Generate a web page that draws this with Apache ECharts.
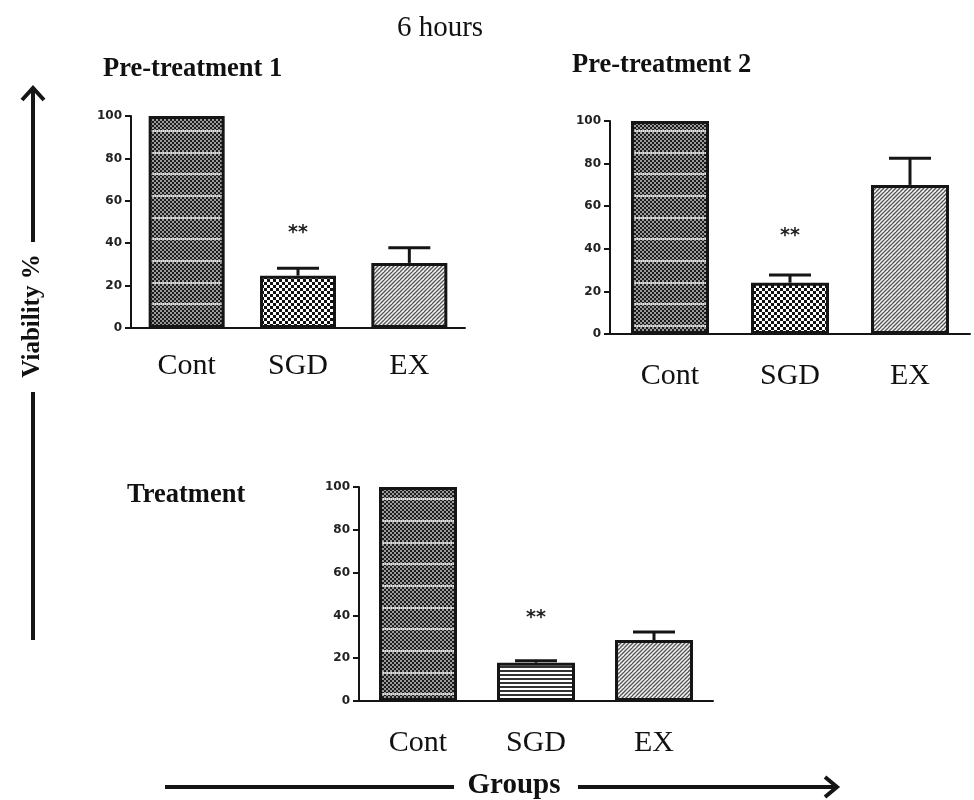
<!DOCTYPE html>
<html>
<head>
<meta charset="utf-8">
<script src="https://cdn.jsdelivr.net/npm/echarts@6/dist/echarts.min.js"></script>
<style>
  html, body { margin: 0; padding: 0; background: #fff; }
  #chart { width: 974px; height: 800px; }
</style>
</head>
<body>
<div id="chart"></div>
<script>
// Groups on the x axis
const categories = ['Cont', 'SGD', 'EX'];

// Viability % per group, with the upper end of each error bar (SEM)
const preTreatment1 = [100, 24.7, 30.7];
const preTreatment1Err = [null, 28.2, 37.9];
const preTreatment2 = [100, 24.1, 70];
const preTreatment2Err = [null, 27.7, 82.5];
const treatment = [100, 17.9, 28.5];
const treatmentErr = [null, 18.8, 32.3];

// Height at which the significance mark "**" sits
const preTreatment1Sig = [null, 44.8, null];
const preTreatment2Sig = [null, 46.2, null];
const treatmentSig = [null, 38.9, null];

const panelTitles = ['Pre-treatment 1', 'Pre-treatment 2', 'Treatment'];

// ---------- fill patterns ----------
function makeCanvas(w, h) {
  const c = document.createElement('canvas');
  c.width = w; c.height = h;
  return c;
}
// fine dark dots with light horizontal bands (control)
function dottedBandPattern() {
  const c = makeCanvas(4, 65);
  const g = c.getContext('2d');
  for (let y = 0; y < 65; y += 2) {
    for (let x = 0; x < 4; x += 2) {
      g.fillStyle = ((x + y) / 2) % 2 === 0 ? '#1c1c1c' : '#9a9a9a';
      g.fillRect(x, y, 2, 2);
    }
  }
  [0, 22, 43].forEach(function (y) {
    g.fillStyle = '#e2e2e2';
    g.fillRect(0, y, 4, 2);
    g.fillStyle = '#b0b0b0';
    g.fillRect(0, y, 1, 2);
    g.fillRect(2, y, 1, 2);
  });
  return c;
}
// coarse black/white checkerboard
function checkerPattern() {
  const c = makeCanvas(6, 6);
  const g = c.getContext('2d');
  g.fillStyle = '#fff';
  g.fillRect(0, 0, 6, 6);
  g.fillStyle = '#111';
  g.fillRect(0, 0, 3, 3);
  g.fillRect(3, 3, 3, 3);
  return c;
}
// diagonal hatching
function hatchPattern() {
  const s = 8;
  const c = makeCanvas(s, s);
  const g = c.getContext('2d');
  g.fillStyle = '#f4f4f4';
  g.fillRect(0, 0, s, s);
  g.strokeStyle = '#555';
  g.lineWidth = 1.3;
  for (let k = -s; k <= 2 * s; k += 4) {
    g.beginPath();
    g.moveTo(k - s, s);
    g.lineTo(k + s, -s);
    g.stroke();
  }
  return c;
}
// horizontal black/white stripes
function stripePattern() {
  const c = makeCanvas(4, 4);
  const g = c.getContext('2d');
  g.fillStyle = '#fff';
  g.fillRect(0, 0, 4, 4);
  g.fillStyle = '#333';
  g.fillRect(0, 2, 4, 2);
  return c;
}
function pat(canvas) { return { image: canvas, repeat: 'repeat' }; }

const fillCont = pat(dottedBandPattern());
const fillChecker = pat(checkerPattern());
const fillHatch = pat(hatchPattern());
const fillStripe = pat(stripePattern());

// ---------- panel geometry ----------
const panels = [
  { values: preTreatment1, err: preTreatment1Err, sig: preTreatment1Sig,
    grid: { left: 131, top: 116, width: 334, height: 212 }, barWidth: 76, labelMargin: 22,
    fills: [fillCont, fillChecker, fillHatch] },
  { values: preTreatment2, err: preTreatment2Err, sig: preTreatment2Sig,
    grid: { left: 610, top: 121, width: 360, height: 213 }, barWidth: 78, labelMargin: 26,
    fills: [fillCont, fillChecker, fillHatch] },
  { values: treatment, err: treatmentErr, sig: treatmentSig,
    grid: { left: 359, top: 487, width: 354, height: 214 }, barWidth: 78, labelMargin: 26,
    fills: [fillCont, fillStripe, fillHatch] }
];

const ink = '#151515';

function errorBarItem(params, api) {
  const x = api.value(0), v = api.value(1), e = api.value(2);
  const base = api.coord([x, v]);
  const top = api.coord([x, e]);
  const hw = 21;
  return {
    type: 'group',
    children: [
      { type: 'line', shape: { x1: base[0], y1: base[1], x2: top[0], y2: top[1] },
        style: { stroke: ink, lineWidth: 3 } },
      { type: 'line', shape: { x1: top[0] - hw, y1: top[1], x2: top[0] + hw, y2: top[1] },
        style: { stroke: ink, lineWidth: 3 } }
    ]
  };
}

function sigItem(params, api) {
  const p = api.coord([api.value(0), api.value(1)]);
  return {
    type: 'text', x: p[0], y: p[1],
    style: { text: '**', fill: '#1e1e1e', font: 'bold 19px "DejaVu Sans"', align: 'center', verticalAlign: 'middle' }
  };
}

const grids = [], xAxes = [], yAxes = [], series = [];
panels.forEach(function (p, i) {
  grids.push(Object.assign({ containLabel: false }, p.grid));
  xAxes.push({
    gridIndex: i, type: 'category', data: categories,
    axisLine: { lineStyle: { color: ink, width: 2 } },
    axisTick: { alignWithLabel: true, length: 6, lineStyle: { color: ink, width: 2 } },
    axisLabel: { fontFamily: '"Liberation Serif", serif', fontSize: 30, color: '#111', margin: p.labelMargin + 1 }
  });
  yAxes.push({
    gridIndex: i, type: 'value', min: 0, max: 100, interval: 20,
    axisLine: { show: true, lineStyle: { color: ink, width: 2 } },
    axisTick: { show: true, length: 6, lineStyle: { color: ink, width: 2 } },
    splitLine: { show: false },
    axisLabel: { fontFamily: '"DejaVu Sans", sans-serif', fontWeight: 'bold', fontSize: 12, color: '#222', margin: 9 }
  });
  series.push({
    type: 'bar', xAxisIndex: i, yAxisIndex: i, barWidth: p.barWidth,
    data: p.values.map(function (v, k) {
      return { value: v, itemStyle: { color: p.fills[k], borderColor: ink, borderWidth: 3 } };
    }),
    animation: false, silent: true
  });
  series.push({
    type: 'custom', xAxisIndex: i, yAxisIndex: i, renderItem: errorBarItem,
    data: p.err.map(function (e, k) { return e == null ? null : [k, p.values[k], e]; })
              .filter(function (d) { return d; }),
    z: 5, animation: false, silent: true
  });
  series.push({
    type: 'custom', xAxisIndex: i, yAxisIndex: i, renderItem: sigItem,
    data: p.sig.map(function (s, k) { return s == null ? null : [k, s]; })
              .filter(function (d) { return d; }),
    z: 6, animation: false, silent: true
  });
});

// ---------- headings and axis arrows ----------
const serifBold = 'bold 26.5px "Liberation Serif", serif';
const graphics = [
  { type: 'text', x: 440, y: 28, style: { text: '6 hours', font: '29px "Liberation Serif", serif', fill: '#111', align: 'center', verticalAlign: 'middle' } },
  { type: 'text', x: 103, y: 69, style: { text: panelTitles[0], font: serifBold, fill: '#111', align: 'left', verticalAlign: 'middle' } },
  { type: 'text', x: 572, y: 65, style: { text: panelTitles[1], font: serifBold, fill: '#111', align: 'left', verticalAlign: 'middle' } },
  { type: 'text', x: 127, y: 495, style: { text: panelTitles[2], font: serifBold, fill: '#111', align: 'left', verticalAlign: 'middle' } },
  // vertical axis arrow
  { type: 'line', shape: { x1: 33, y1: 88, x2: 33, y2: 242 }, style: { stroke: ink, lineWidth: 4 } },
  { type: 'polyline', shape: { points: [[22, 100], [33, 88], [44, 100]] }, style: { stroke: ink, lineWidth: 4, fill: null } },
  { type: 'line', shape: { x1: 33, y1: 392, x2: 33, y2: 640 }, style: { stroke: ink, lineWidth: 4 } },
  { type: 'text', x: 33, y: 316, rotation: Math.PI / 2,
    style: { text: 'Viability %', font: 'bold 25px "Liberation Serif", serif', fill: '#111', align: 'center', verticalAlign: 'middle' } },
  // horizontal axis arrow
  { type: 'line', shape: { x1: 165, y1: 787, x2: 454, y2: 787 }, style: { stroke: ink, lineWidth: 4 } },
  { type: 'line', shape: { x1: 578, y1: 787, x2: 836, y2: 787 }, style: { stroke: ink, lineWidth: 4 } },
  { type: 'polyline', shape: { points: [[825, 777], [837, 787], [825, 797]] }, style: { stroke: ink, lineWidth: 4, fill: null } },
  { type: 'text', x: 514, y: 786, style: { text: 'Groups', font: 'bold 29px "Liberation Serif", serif', fill: '#111', align: 'center', verticalAlign: 'middle' } }
];

const chart = echarts.init(document.getElementById('chart'), null, { renderer: 'canvas' });
chart.setOption({
  backgroundColor: '#fff',
  animation: false,
  grid: grids,
  xAxis: xAxes,
  yAxis: yAxes,
  series: series,
  graphic: graphics
});
</script>
</body>
</html>
